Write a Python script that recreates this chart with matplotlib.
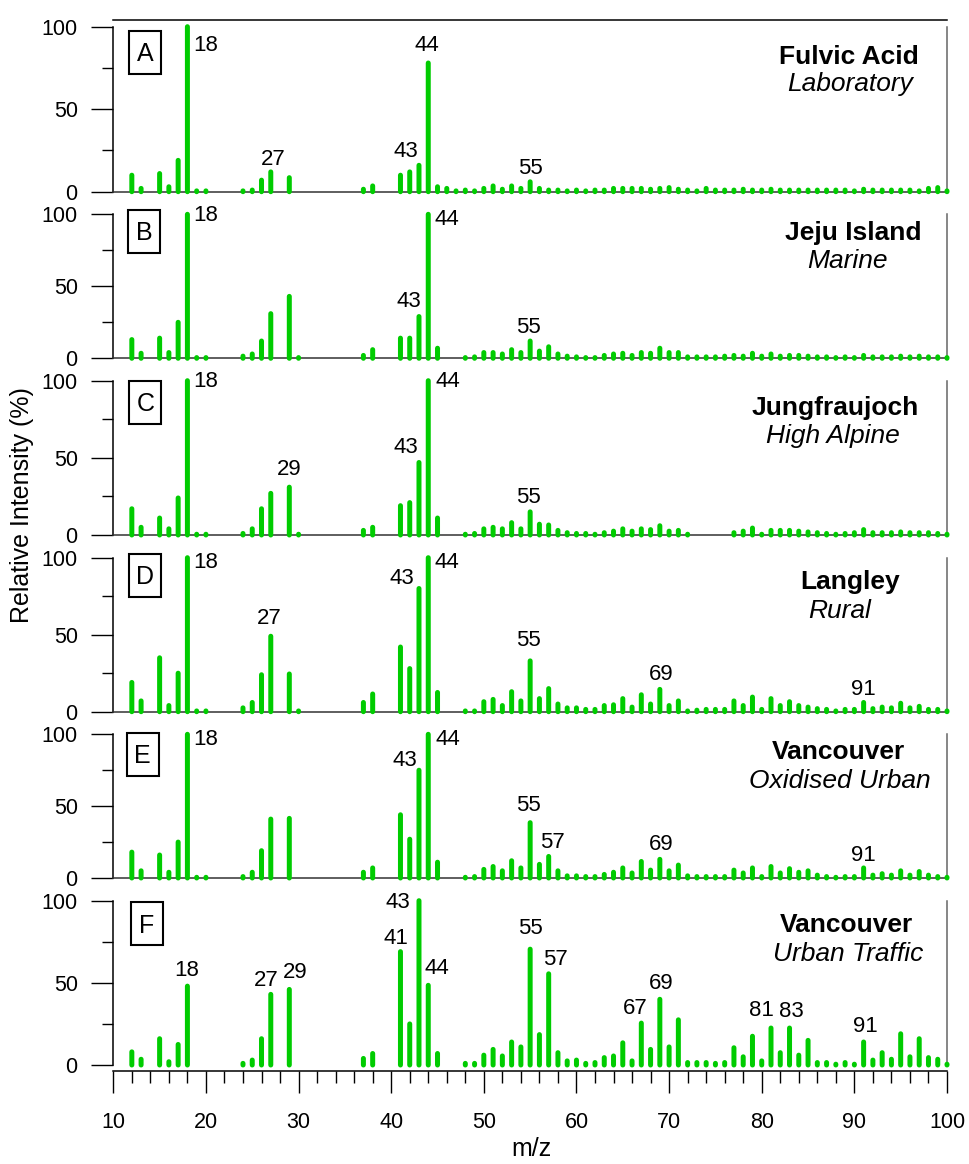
import matplotlib.pyplot as plt
from matplotlib.patches import Rectangle

plt.rcParams['font.family'] = ['Liberation Sans', 'DejaVu Sans']

# m/z channels present in each spectrum
low_a = [12, 13, 15, 16, 17, 18, 19, 20, 24, 25, 26, 27, 29, 37, 38, 41, 42, 43, 44, 45, 46, 47]
low_b = [12, 13, 15, 16, 17, 18, 19, 20, 24, 25, 26, 27, 29, 30, 37, 38, 41, 42, 43, 44, 45]
low_e = [12, 13, 15, 16, 17, 18, 19, 20, 24, 25, 26, 27, 29, 37, 38, 41, 42, 43, 44, 45]
low_f = [12, 13, 15, 16, 17, 18, 24, 25, 26, 27, 29, 37, 38, 41, 42, 43, 44, 45]

mz_a = low_a + list(range(48, 101))
mz_b = low_b + list(range(48, 101))
mz_c = low_b + list(range(48, 73)) + list(range(77, 101))
mz_d = low_b + list(range(48, 101))
mz_e = low_e + list(range(48, 101))
mz_f = low_f + list(range(48, 101))

# relative intensities (%)
int_a = [10, 2, 11, 3, 19, 100, 0.5, 0.5, 0.5, 1, 7, 12, 8.5, 1.5, 3.5, 10, 12, 16, 78, 3, 2, 0.5,
         1, 0.5, 2, 3.5, 1.5, 3.5, 2, 6, 2, 1, 1, 0.5, 1, 0.5, 1, 1, 2, 2, 2, 2, 1.5, 2, 2.5, 1.5,
         1, 0.5, 2, 1, 1, 1, 1.5, 1, 1, 1.5, 1, 1, 1, 1, 1, 1, 1, 1, 0.5, 1.5, 1, 1, 1, 1, 1, 0.5,
         2, 2.5, 0.5]
int_b = [13, 3.5, 14, 4, 25, 100, 0.5, 0.5, 1.5, 3, 12, 31, 43, 0.5, 2, 6, 14, 14, 29, 100, 7,
         0.5, 1, 4, 4, 3, 6, 4, 12, 5, 8, 3, 1.5, 1, 0.5, 0.5, 2, 3, 3.5, 2, 4, 3.5, 7, 4, 4, 1,
         1, 1, 1, 1.5, 2, 1.5, 3.5, 1.5, 3, 1.5, 2, 2, 1.5, 1, 1, 0.5, 1, 0.5, 2, 1, 1, 1, 1.5,
         1, 1.5, 1, 1, 0.5]
int_c = [17, 5, 11, 4, 24, 100, 0.5, 0.5, 1, 4, 17, 27, 31, 0.5, 3, 5, 19, 21, 47, 100, 11,
         0.5, 1, 4, 5, 4, 8, 4, 15, 7, 6.5, 3, 1.5, 1, 1, 0.5, 1.5, 2.5, 4, 2.5, 4, 3.5, 6, 2.5,
         3, 0.5,
         1.5, 2.5, 4.5, 0.5, 3, 3, 3, 2.5, 2, 1.5, 1, 0.5, 1, 1.5, 3.5, 1.5, 1.5, 1.5, 2, 1.5,
         1.5, 1.5, 1, 0.5]
int_d = [19, 7, 35, 4, 25, 100, 0.5, 0.5, 2.5, 6, 24, 49, 24.5, 0.5, 6, 11.5, 42, 28, 80, 100, 12.5,
         0.5, 0.5, 6.5, 8, 4, 13, 7, 33, 8.5, 15, 5, 2.5, 2.5, 1.5, 1.5, 4, 4.5, 8.5, 3, 11, 5,
         14.5, 4, 7, 0.5, 1, 1.5, 1.5, 1.5, 7, 4, 9.5, 1.5, 8.5, 4, 6.5, 4, 3, 2, 1.5, 0.5, 1.5,
         1.5, 6, 2, 3, 2.5, 5.5, 2.5, 3.5, 1.5, 1.5, 0.5]
int_e = [18, 5, 16, 4, 25, 100, 0.5, 0.5, 1, 4, 19, 41, 41.5, 4, 7, 44, 27, 75, 100, 11,
         0.5, 1, 6, 8, 5, 12, 7, 38.5, 9.5, 15, 5, 1.5, 1.5, 1, 1, 2.5, 4, 7, 3.5, 11.5, 5.5, 13,
         5, 9, 1.5, 1, 1, 1, 1, 5.5, 3.5, 7, 1, 8, 3.5, 6.5, 4, 5, 2, 1, 0.5, 1, 1, 7, 2, 3, 2, 5,
         2, 4.5, 2, 1, 0.5]
int_f = [8, 3.5, 16, 2, 12.5, 48, 1, 3, 16, 43, 46, 4, 7, 69, 25, 100, 48.5, 7,
         1, 1, 6, 9.5, 5.5, 14, 11, 70.5, 18.5, 55.5, 7.5, 2.5, 3, 1, 1.5, 4.5, 5.5, 13.5, 2.5,
         25.5, 9.5, 40, 11, 27.5, 1.5, 1.5, 1.5, 1, 1.5, 10.5, 5, 17.5, 2.5, 22.5, 7.5, 22.5, 6,
         15, 1.5, 1.5, 0.5, 1.5, 0.5, 14, 3, 7.5, 3.5, 19, 5, 16, 4.5, 3.5, 0.5]

letters = ['A', 'B', 'C', 'D', 'E', 'F']
sites = ['Fulvic Acid', 'Jeju Island', 'Jungfraujoch', 'Langley', 'Vancouver', 'Vancouver']
types = ['Laboratory', 'Marine', 'High Alpine', 'Rural', 'Oxidised Urban', 'Urban Traffic']

# labelled peaks: (m/z, alignment, x shift in m/z, y shift in px)
peaks_a = [(18, 'left', 0.6, -16), (27, 'center', 0.3, 15), (43, 'center', -1.4, 16),
           (44, 'center', -0.2, 20), (55, 'center', 0, 16)]
peaks_b = [(18, 'left', 0.6, 1), (43, 'center', -1.1, 18), (44, 'left', 0.7, -3),
           (55, 'center', -0.2, 16)]
peaks_c = [(18, 'left', 0.6, 2), (29, 'center', 0, 20), (43, 'center', -1.4, 17),
           (44, 'left', 0.8, 2), (55, 'center', -0.2, 17)]
peaks_d = [(18, 'left', 0.6, -2), (27, 'center', -0.2, 20), (43, 'center', -1.9, 13),
           (44, 'left', 0.7, -2), (55, 'center', -0.2, 23), (69, 'center', 0.1, 17),
           (91, 'center', 0, 15)]
peaks_e = [(18, 'left', 0.6, -3), (43, 'center', -1.5, 12), (44, 'left', 0.8, -3),
           (55, 'center', -0.2, 20), (57, 'center', 0.4, 16), (69, 'center', 0.1, 17),
           (91, 'center', 0, 15)]
peaks_f = [(18, 'center', -0.1, 18), (27, 'center', -0.5, 16), (29, 'center', 0.6, 19),
           (41, 'center', -0.5, 16), (43, 'center', -2.25, 1), (44, 'center', 0.9, 19),
           (55, 'center', 0, 23), (57, 'center', 0.75, 17), (67, 'center', -0.65, 17),
           (69, 'center', 0.1, 18), (81, 'center', -1.05, 20), (83, 'center', 0.2, 19),
           (91, 'center', 0.2, 18)]

all_mz = [mz_a, mz_b, mz_c, mz_d, mz_e, mz_f]
all_int = [int_a, int_b, int_c, int_d, int_e, int_f]
all_peaks = [peaks_a, peaks_b, peaks_c, peaks_d, peaks_e, peaks_f]

# layout in pixels (figure is 969 x 1164)
W, H = 969, 1164
x_left, x_right = 113.3, 947
panel_px = [(191.7, 26.7), (358.3, 214.3), (535, 380.7), (711.7, 557.7), (878, 734.3), (1065, 900.7)]
box_px = [(145, 52), (144, 231), (145.3, 402), (145.3, 575), (142.8, 754), (147, 923.7)]
title_px = [(849, 64, 850, 91), (853, 240, 847, 268), (835, 415, 833, 443),
            (850, 589, 840, 618), (838, 759, 840, 788), (846, 932, 848, 961)]

green = '#00cc00'

fig = plt.figure(figsize=(W / 100, H / 100), dpi=100)

for i in range(6):
    y0, y100 = panel_px[i]
    ax = fig.add_axes([x_left / W, 1 - y0 / H, (x_right - x_left) / W, (y0 - y100) / H])
    ax.set_xlim(10, 100)
    ax.set_ylim(0, 100)
    ax.patch.set_visible(False)

    bars = ax.vlines(all_mz[i], 0, all_int[i], colors=green, linewidth=3.6, capstyle='round',
                     clip_on=False, zorder=3)
    bars.set_snap(False)

    vals = dict(zip(all_mz[i], all_int[i]))
    for mz, ha, dx, dy in all_peaks[i]:
        ax.annotate(str(mz), xy=(mz + dx, vals[mz]), xytext=(0, dy), textcoords='offset pixels',
                    ha=ha, va='center_baseline', fontsize=16, annotation_clip=False)

    ax.spines['top'].set_visible(False)
    ax.spines['left'].set_linewidth(1.1)
    ax.spines['right'].set_color('#666666')
    ax.spines['right'].set_linewidth(1.1)
    ax.spines['bottom'].set_color('#333333')
    ax.spines['bottom'].set_linewidth(1.1)

    ax.set_yticks([0, 50, 100])
    ax.set_yticks([25, 75], minor=True)
    ax.tick_params(axis='y', which='major', length=15.6, width=1, pad=10, labelsize=15.5)
    ax.tick_params(axis='y', which='minor', length=8, width=1)

    if i == 0:
        ax.spines['top'].set_visible(True)
        ax.spines['top'].set_position(('data', 104))
        ax.spines['top'].set_linewidth(1.1)

    if i < 5:
        ax.tick_params(axis='x', which='both', bottom=False, labelbottom=False)
    else:
        ax.spines['bottom'].set_position(('outward', 4.1))
        ax.spines['bottom'].set_color('black')
        ax.set_xticks(range(10, 101, 10))
        ax.set_xticks(range(12, 100, 2), minor=True)
        ax.tick_params(axis='x', which='major', length=16, width=1, pad=14, labelsize=15.5)
        ax.tick_params(axis='x', which='minor', length=8.6, width=1)

    bx, by = box_px[i]
    fig.add_artist(Rectangle(((bx - 16) / W, 1 - (by + 21.5) / H), 32 / W, 43 / H,
                             transform=fig.transFigure, fill=False, edgecolor='black',
                             linewidth=1.5))
    fig.text(bx / W, 1 - (by + 9) / H, letters[i], ha='center', va='baseline', fontsize=18)

    tx1, ty1, tx2, ty2 = title_px[i]
    fig.text(tx1 / W, 1 - ty1 / H, sites[i], ha='center', va='baseline', fontsize=19,
             fontweight='bold')
    fig.text(tx2 / W, 1 - ty2 / H, types[i], ha='center', va='baseline', fontsize=19,
             style='italic')

fig.text(22 / W, 1 - 505 / H, 'Relative Intensity (%)', rotation=90, ha='center', va='center',
         fontsize=18)
fig.text(531 / W, 1 - 1156 / H, 'm/z', ha='center', va='baseline', fontsize=18)

fig.savefig('out.png', dpi=100)
